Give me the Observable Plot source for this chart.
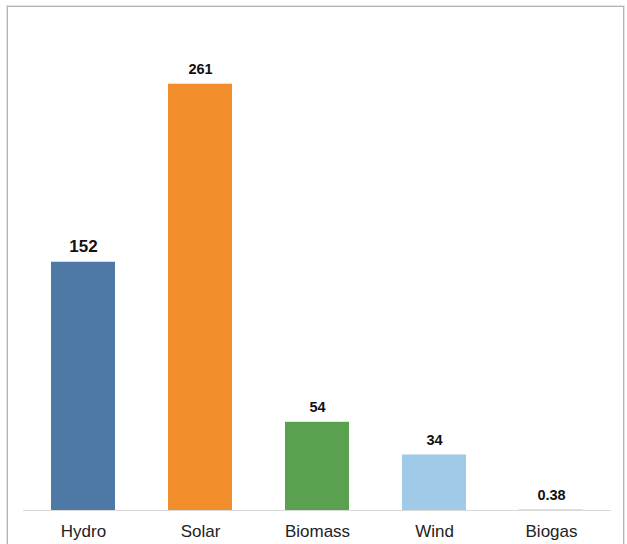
<!DOCTYPE html>
<html>
<head>
<meta charset="utf-8">
<script src="https://cdn.jsdelivr.net/npm/d3@7"></script>
<script src="https://cdn.jsdelivr.net/npm/@observablehq/plot@0.6"></script>
<style>
  html, body { margin: 0; padding: 0; background: #fff; }
  #wrap { position: relative; width: 627px; height: 544px; overflow: hidden; }
  #frame {
    position: absolute; left: 7px; top: 6px; width: 615px; height: 560px;
    border: 1px solid #b4b4b4; box-shadow: 0 0 0 1px #e4e4e4;
    pointer-events: none;
  }
  #chart { position: absolute; left: 0; top: 0; }
</style>
</head>
<body>
<div id="wrap">
  <div id="chart"></div>
  <div id="frame"></div>
</div>
<script>
// Energy sources and their values
const sources = ["Hydro", "Solar", "Biomass", "Wind", "Biogas"];
const values = [152, 261, 54, 34, 0.38];
const valueLabels = ["152", "261", "54", "34", "0.38"];
const colors = ["#4e79a7", "#f28e2b", "#59a14f", "#a0cbe8", "#f1ce63"];

const data = sources.map((s, i) => ({source: s, value: values[i], label: valueLabels[i]}));

const chart = Plot.plot({
  width: 627,
  height: 544,
  marginTop: 20,
  marginBottom: 34,
  marginLeft: 23,
  marginRight: 16,
  style: {fontFamily: "'Liberation Sans', Arial, sans-serif", background: "transparent"},
  x: {domain: sources, paddingInner: 0.455, paddingOuter: 0.2275, label: null},
  y: {domain: [0, 300], axis: null},
  color: {domain: sources, range: colors},
  marks: [
    Plot.ruleY([0], {stroke: "#d9d9d9", strokeWidth: 1.2}),
    Plot.barY(data, {x: "source", y: "value", fill: "source"}),
    Plot.text(data, {
      x: "source", y: "value", text: "label",
      lineAnchor: "bottom", dy: -10,
      fontWeight: "bold", fill: "#111",
      fontSize: d => d.source === "Hydro" ? 17 : 14.5
    }),
    Plot.axisX({
      tickSize: 0, tickPadding: 14, fontSize: 17, fill: "#222", label: null
    })
  ]
});

document.getElementById("chart").appendChild(chart);
</script>
</body>
</html>
